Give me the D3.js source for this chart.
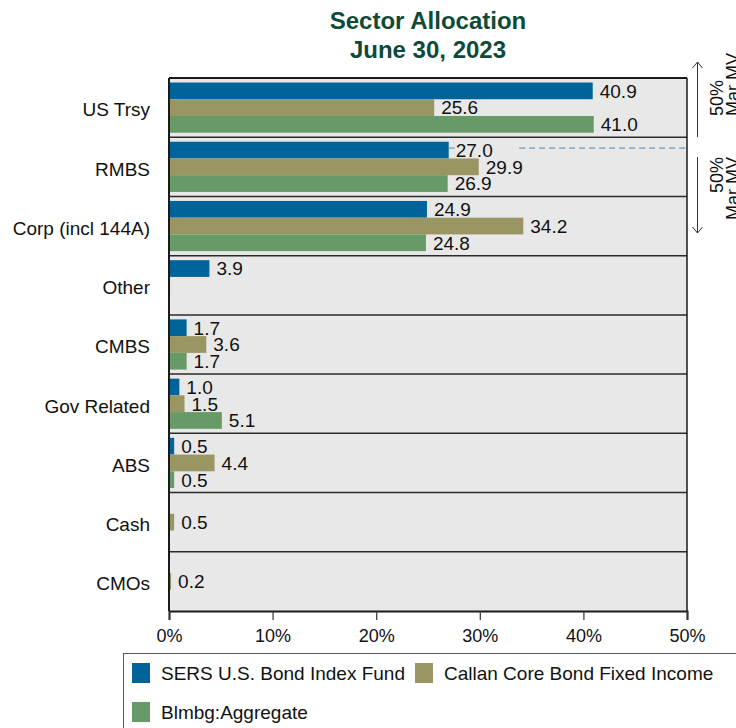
<html>
<head>
<meta charset="utf-8">
<style>
  body { margin: 0; background: #fff; }
  text { font-family: "Liberation Sans", Arial, sans-serif; }
</style>
</head>
<body>
<svg width="736" height="728"></svg>
<script src="https://cdn.jsdelivr.net/npm/d3@7/dist/d3.min.js"></script>
<script>
// data (percent of market value)
const categories = ["US Trsy", "RMBS", "Corp (incl 144A)", "Other", "CMBS", "Gov Related", "ABS", "Cash", "CMOs"]
const seriesNames = ["SERS U.S. Bond Index Fund", "Callan Core Bond Fixed Income", "Blmbg:Aggregate"]
const sersValues = [40.9, 27.0, 24.9, 3.9, 1.7, 1.0, 0.5, 0.0, 0.0]
const callanValues = [25.6, 29.9, 34.2, 0.1, 3.6, 1.5, 4.4, 0.5, 0.2]
const aggValues = [41.0, 26.9, 24.8, 0.0, 1.7, 5.1, 0.5, 0.0, 0.0]
const xTicks = [0, 10, 20, 30, 40, 50]
const colors = ["#00649b", "#9a9664", "#679a67"]

const svg = d3.select("svg")

const plot = {left: 169, right: 687, top: 78, bottom: 611}

const x = d3.scaleLinear().domain([0, 50]).range([plot.left, plot.right])
const y0 = d3.scaleBand().domain(categories).range([plot.top, plot.bottom])
const y1 = d3.scaleBand().domain(seriesNames).range([0, y0.bandwidth()]).paddingOuter(0.27)

const rows = categories.map((c, i) => ({
  cat: c,
  vals: [sersValues[i], callanValues[i], aggValues[i]]
}))

// title
const title = svg.append("text").attr("x", 428).attr("text-anchor", "middle")
  .attr("fill", "#0f4a38").attr("font-weight", "bold").attr("font-size", 24)
title.append("tspan").attr("x", 428).attr("y", 29).text("Sector Allocation")
title.append("tspan").attr("x", 428).attr("y", 58).text("June 30, 2023")

// plot background
svg.append("rect").attr("x", plot.left).attr("y", plot.top)
  .attr("width", plot.right - plot.left).attr("height", plot.bottom - plot.top)
  .attr("fill", "#e8e8e8")

// bars
const groups = svg.selectAll("g.row").data(rows).join("g")
  .attr("class", "row")
  .attr("transform", d => `translate(0,${y0(d.cat)})`)

groups.selectAll("rect").data(d => d.vals.map((v, j) => ({v, j})).filter(e => e.v > 0)).join("rect")
  .attr("x", x(0))
  .attr("y", e => y1(seriesNames[e.j]))
  .attr("width", e => x(e.v) - x(0))
  .attr("height", y1.bandwidth())
  .attr("fill", e => colors[e.j])

// dashed 50% marker line in RMBS row
const dashY = y0("RMBS") + y1(seriesNames[0]) + y1.bandwidth() / 2 - 2
svg.append("line").attr("x1", x(27.0)).attr("x2", x(27.0) + 9)
  .attr("y1", dashY).attr("y2", dashY)
  .attr("stroke", "#6a98bf").attr("stroke-width", 1.2).attr("stroke-dasharray", "6,4")
svg.append("line").attr("x1", x(33.8)).attr("x2", x(50))
  .attr("y1", dashY).attr("y2", dashY)
  .attr("stroke", "#6a98bf").attr("stroke-width", 1.2).attr("stroke-dasharray", "6,4")

// value labels (the tiny "Other" sliver carries no label)
groups.selectAll("text.val").data(d => d.vals.map((v, j) => ({v, j})).filter(e => e.v >= 0.15)).join("text")
  .attr("class", "val")
  .attr("x", e => x(e.v) + 7)
  .attr("y", e => y1(seriesNames[e.j]) + y1.bandwidth() / 2)
  .attr("dy", "0.36em")
  .attr("font-size", 19)
  .attr("fill", "#111")
  .text(e => e.v.toFixed(1))

// row separators
svg.selectAll("line.sep").data(categories.slice(1)).join("line")
  .attr("class", "sep")
  .attr("x1", plot.left).attr("x2", plot.right)
  .attr("y1", d => y0(d)).attr("y2", d => y0(d))
  .attr("stroke", "#2a2a2a").attr("stroke-width", 1.5)

// frame
svg.append("line").attr("x1", plot.left).attr("x2", plot.right).attr("y1", plot.top).attr("y2", plot.top)
  .attr("stroke", "#1a1a1a").attr("stroke-width", 2)
svg.append("line").attr("x1", plot.right).attr("x2", plot.right).attr("y1", plot.top).attr("y2", plot.bottom)
  .attr("stroke", "#1a1a1a").attr("stroke-width", 1.5)
svg.append("line").attr("x1", plot.left).attr("x2", plot.left).attr("y1", plot.top).attr("y2", plot.bottom)
  .attr("stroke", "#1a1a1a").attr("stroke-width", 2)

// category labels
svg.selectAll("text.cat").data(categories).join("text")
  .attr("class", "cat")
  .attr("x", 150)
  .attr("y", d => y0(d) + y0.bandwidth() / 2 + 2)
  .attr("dy", "0.36em")
  .attr("text-anchor", "end")
  .attr("font-size", 19)
  .attr("fill", "#111")
  .text(d => d)

// x axis
const xAxis = svg.append("g").attr("transform", `translate(0,${plot.bottom})`)
  .call(d3.axisBottom(x).tickValues(xTicks).tickSize(9).tickPadding(9).tickFormat(d => d + "%"))
xAxis.select(".domain").attr("stroke", "#1a1a1a").attr("stroke-width", 2)
xAxis.selectAll(".tick line").attr("stroke", "#333").attr("stroke-width", 1.2)
xAxis.selectAll(".tick text").attr("font-size", 18).attr("fill", "#111")
  .attr("font-family", "Liberation Sans, Arial, sans-serif")

// right annotation arrows
const ann = svg.append("g")
const arrowX = 697.5
function arrow(yTop, yBot, headTop) {
  ann.append("line").attr("x1", arrowX).attr("x2", arrowX).attr("y1", yTop).attr("y2", yBot)
    .attr("stroke", "#333").attr("stroke-width", 1)
  const hy = headTop ? yTop : yBot
  const s = headTop ? 1 : -1
  ann.append("path")
    .attr("d", `M${arrowX - 5},${hy + 6 * s} L${arrowX},${hy} L${arrowX + 5},${hy + 6 * s}`)
    .attr("fill", "none").attr("stroke", "#333").attr("stroke-width", 1)
}
arrow(62, y0("RMBS"), true)
arrow(157, 233, false)

function annText(yPos, anchor) {
  const t = ann.append("text").attr("transform", `translate(723,${yPos}) rotate(-90)`)
    .attr("text-anchor", anchor).attr("font-size", 18).attr("fill", "#111")
  t.append("tspan").attr("x", 0).attr("y", 0).text("50%")
  t.append("tspan").attr("x", 0).attr("y", 16).text("Mar MV")
}
annText(116, "start")
annText(157, "end")

// legend
const legend = svg.append("g")
legend.append("rect").attr("x", 123.5).attr("y", 653.5).attr("width", 640).attr("height", 100)
  .attr("fill", "#fff").attr("stroke", "#555").attr("stroke-width", 1)

const legendRowY = [663, 663, 702]
let nextX = 132
seriesNames.forEach((name, i) => {
  const lx = i === 1 ? nextX : 132
  const item = legend.append("g").attr("transform", `translate(${lx},${legendRowY[i]})`)
  item.append("rect").attr("width", 18).attr("height", 20).attr("fill", colors[i])
  const t = item.append("text").attr("x", 29).attr("y", 17).attr("font-size", 19).attr("fill", "#111").text(name)
  if (i === 0) nextX = lx + 29 + t.node().getComputedTextLength() + 10
})
</script>
</body>
</html>
